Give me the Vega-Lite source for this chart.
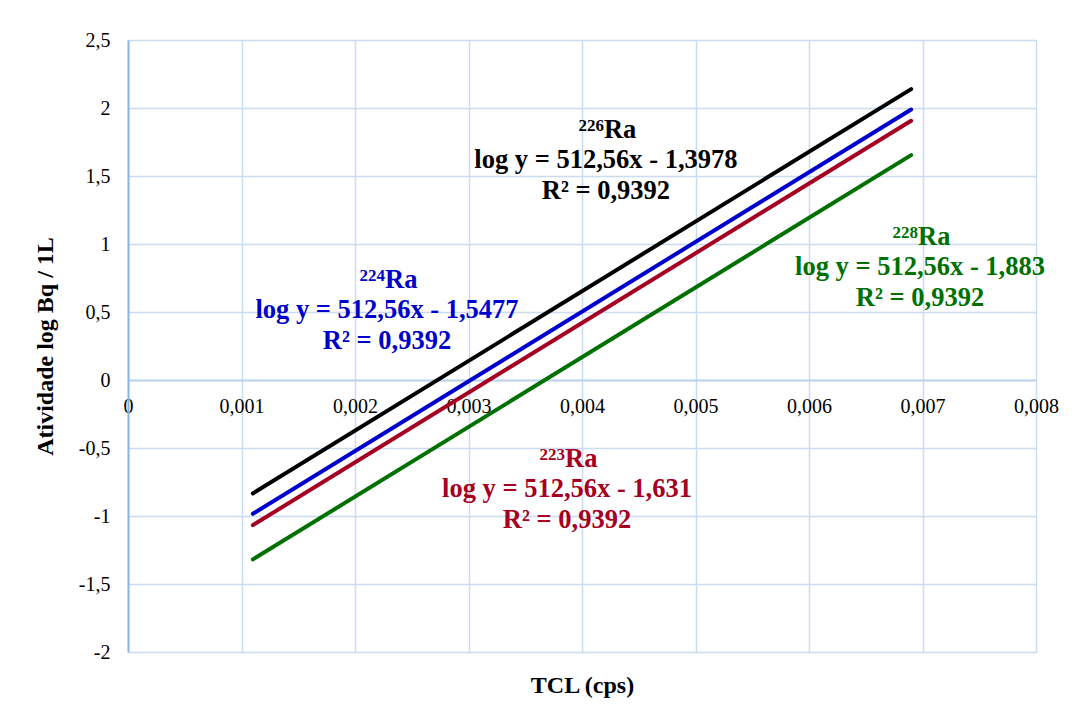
{
  "$schema": "https://vega.github.io/schema/vega-lite/v6.json",
  "autosize": "none",
  "width": 908,
  "height": 612,
  "padding": {"left": 128, "top": 40, "right": 38, "bottom": 59},
  "background": "#ffffff",
  "config": {
    "locale": {"number": {"decimal": ",", "thousands": ".", "grouping": [3], "currency": ["", ""], "minus": "-"}},
    "view": {"stroke": null},
    "font": "Liberation Serif"
  },
  "datasets": {
    "fits": [
      {"isotope": "226Ra", "tcl": 0.0011, "atividade": -0.8340},
      {"isotope": "226Ra", "tcl": 0.0069, "atividade": 2.1389},
      {"isotope": "224Ra", "tcl": 0.0011, "atividade": -0.9839},
      {"isotope": "224Ra", "tcl": 0.0069, "atividade": 1.9890},
      {"isotope": "223Ra", "tcl": 0.0011, "atividade": -1.0672},
      {"isotope": "223Ra", "tcl": 0.0069, "atividade": 1.9057},
      {"isotope": "228Ra", "tcl": 0.0011, "atividade": -1.3192},
      {"isotope": "228Ra", "tcl": 0.0069, "atividade": 1.6537}
    ],
    "labels": [
      {"isotope": "226Ra", "mass": "226", "tcl": 0.004211, "atividade": 1.559, "eq": "log y = 512,56x - 1,3978\nR² = 0,9392"},
      {"isotope": "224Ra", "mass": "224", "tcl": 0.002282, "atividade": 0.456, "eq": "log y = 512,56x - 1,5477\nR² = 0,9392"},
      {"isotope": "223Ra", "mass": "223", "tcl": 0.003868, "atividade": -0.860, "eq": "log y = 512,56x - 1,631\nR² = 0,9392"},
      {"isotope": "228Ra", "mass": "228", "tcl": 0.006978, "atividade": 0.772, "eq": "log y = 512,56x - 1,883\nR² = 0,9392"}
    ]
  },
  "encoding": {
    "x": {
      "field": "tcl", "type": "quantitative",
      "scale": {"domain": [0, 0.008], "nice": false, "zero": false},
      "axis": {
        "title": "TCL (cps)",
        "values": [0, 0.001, 0.002, 0.003, 0.004, 0.005, 0.006, 0.007, 0.008],
        "format": ".3~f",
        "offset": -272,
        "ticks": false, "tickSize": 0,
        "labelPadding": 16,
        "labelFont": "Liberation Serif", "labelFontSize": 20, "labelColor": "#000000",
        "labelFlush": false, "labelOverlap": false,
        "domainColor": "#BDD3EE", "domainWidth": 2,
        "grid": true, "gridColor": "#C9DCF2", "gridWidth": 1.5,
        "titleFont": "Liberation Serif", "titleFontSize": 24, "titleFontWeight": "bold", "titleColor": "#000000",
        "titleY": 312, "titleBaseline": "alphabetic"
      }
    },
    "y": {
      "field": "atividade", "type": "quantitative",
      "scale": {"domain": [-2, 2.5], "nice": false, "zero": false},
      "axis": {
        "title": "Atividade log Bq / 1L",
        "values": [-2, -1.5, -1, -0.5, 0, 0.5, 1, 1.5, 2, 2.5],
        "format": ".1~f",
        "ticks": false, "tickSize": 0,
        "labelPadding": 18,
        "labelFont": "Liberation Serif", "labelFontSize": 20, "labelColor": "#000000",
        "labelFlush": false, "labelOverlap": false,
        "domainColor": "#8EB4E3", "domainWidth": 2,
        "grid": true, "gridColor": "#C9DCF2", "gridWidth": 1.5,
        "titleFont": "Liberation Serif", "titleFontSize": 24, "titleFontWeight": "bold", "titleColor": "#000000",
        "titleX": -83, "titleY": 306, "titleAngle": -90, "titleAlign": "center", "titleBaseline": "middle"
      }
    },
    "color": {
      "field": "isotope", "type": "nominal",
      "scale": {"domain": ["226Ra", "224Ra", "223Ra", "228Ra"], "range": ["#000000", "#0000CC", "#A50021", "#007000"]},
      "legend": null
    }
  },
  "layer": [
    {
      "data": {"name": "fits"},
      "mark": {"type": "line", "strokeWidth": 4, "strokeCap": "round"},
      "encoding": {"detail": {"field": "isotope"}}
    },
    {
      "data": {"name": "labels"},
      "mark": {"type": "text", "align": "center", "baseline": "alphabetic", "font": "Liberation Serif", "fontSize": 26.5, "fontWeight": "bold", "lineBreak": "\n", "lineHeight": 31},
      "encoding": {"text": {"field": "eq"}}
    },
    {
      "data": {"name": "labels"},
      "mark": {"type": "text", "align": "right", "baseline": "alphabetic", "font": "Liberation Serif", "fontSize": 17, "fontWeight": "bold", "dx": -2, "dy": -37},
      "encoding": {"text": {"field": "mass"}}
    },
    {
      "data": {"name": "labels"},
      "mark": {"type": "text", "align": "left", "baseline": "alphabetic", "font": "Liberation Serif", "fontSize": 26.5, "fontWeight": "bold", "dx": -2, "dy": -30},
      "encoding": {"text": {"value": "Ra"}}
    }
  ]
}
